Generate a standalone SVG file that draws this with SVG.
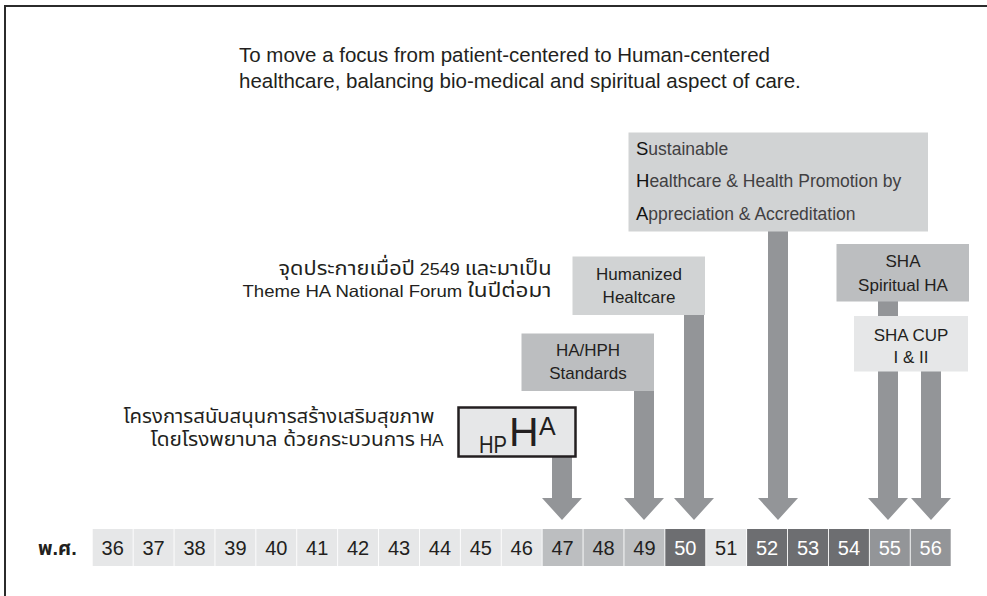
<svg xmlns="http://www.w3.org/2000/svg" width="987" height="596" viewBox="0 0 987 596">
<style>
  text { font-family: "Liberation Sans", Arial, "Noto Sans Thai", "Noto Sans", sans-serif; fill: #231f20; }
  .hdr { font-size: 20.5px; }
  .lbl { font-size: 17px; text-anchor: middle; }
  .sus { font-size: 17.5px; fill: #414042; }
  .sus tspan.cap { fill: #111; font-size: 18.5px; }
  .thai { font-size: 16.5px; text-anchor: end; }
  .thai tspan.th { font-size: 20px; }
  .yr { font-size: 20px; text-anchor: middle; }
  .yr.w { fill: #ffffff; }
  .cl { fill: #e6e7e8; }
  .cm { fill: #bcbec0; }
  .cd { fill: #6d6e71; }
  .cg { fill: #939598; }
  .arrow { fill: #939598; }
  .boxA { fill: #d1d3d4; }
  .boxB { fill: #bcbec0; }
  .boxC { fill: #e6e7e8; }
</style>
<rect x="0" y="0" width="987" height="596" fill="#ffffff"/>
<path d="M5 596 V6 H987" fill="none" stroke="#2b2b2b" stroke-width="2"/>

<g id="header">
  <text class="hdr" x="239" y="62">To move a focus from patient-centered to Human-centered</text>
  <text class="hdr" x="239" y="88">healthcare, balancing bio-medical and spiritual aspect of care.</text>
</g>

<g id="connectors">
  <path class="arrow" d="M552 456 H572 V498 H582 L562 520 L542 498 H552 Z"/>
  <path class="arrow" d="M634 390 H654 V498 H664 L644 520 L624 498 H634 Z"/>
  <path class="arrow" d="M684 314 H704 V498 H714 L694 520 L674 498 H684 Z"/>
  <path class="arrow" d="M768 231 H788 V498 H798 L778 520 L758 498 H768 Z"/>
  <path class="arrow" d="M878 301 H898 V498 H908 L888 520 L868 498 H878 Z"/>
  <path class="arrow" d="M921 371 H941 V498 H951 L931 520 L911 498 H921 Z"/>
</g>

<g id="node-sustainable">
  <rect class="boxA" x="628.5" y="132.5" width="299.5" height="99"/>
  <text class="sus" x="636" y="155"><tspan class="cap">S</tspan>ustainable</text>
  <text class="sus" x="636" y="187"><tspan class="cap">H</tspan>ealthcare &amp; Health Promotion by</text>
  <text class="sus" x="636" y="220"><tspan class="cap">A</tspan>ppreciation &amp; Accreditation</text>
</g>

<g id="node-humanized">
  <rect class="boxA" x="572.5" y="256.5" width="132.5" height="58.5"/>
  <text class="lbl" x="639" y="279.5">Humanized</text>
  <text class="lbl" x="639" y="303">Healtcare</text>
</g>

<g id="node-hahph">
  <rect class="boxB" x="521.5" y="333.5" width="132.5" height="57.5"/>
  <text class="lbl" x="588" y="355.5">HA/HPH</text>
  <text class="lbl" x="588" y="378.5">Standards</text>
</g>

<g id="node-sha">
  <rect class="boxB" x="836.5" y="244" width="132.5" height="57.5"/>
  <text class="lbl" x="903" y="267">SHA</text>
  <text class="lbl" x="903" y="291">Spiritual HA</text>
</g>

<g id="node-shacup">
  <rect class="boxC" x="854" y="316" width="114" height="55.5"/>
  <text class="lbl" x="911" y="341">SHA CUP</text>
  <text class="lbl" x="911" y="362.5">I &amp; II</text>
</g>

<g id="node-hpha">
  <rect x="458.5" y="407.5" width="117" height="49" fill="#e6e7e8" stroke="#231f20" stroke-width="2.5"/>
  <text x="479" y="453" font-size="24" textLength="28" lengthAdjust="spacingAndGlyphs">HP</text>
  <text x="509" y="446" font-size="41">H</text>
  <text x="539" y="435" font-size="25">A</text>
</g>

<g id="note-2549">
  <text class="thai" x="551.5" y="274.5" textLength="273" lengthAdjust="spacingAndGlyphs"><tspan class="th">จุดประกายเมื่อปี</tspan> 2549 <tspan class="th">และมาเป็น</tspan></text>
  <text class="thai" x="551.5" y="297" textLength="309" lengthAdjust="spacingAndGlyphs">Theme HA National Forum <tspan class="th">ในปีต่อมา</tspan></text>
</g>

<g id="note-project">
  <text class="thai" x="434.5" y="423" textLength="311" lengthAdjust="spacingAndGlyphs"><tspan class="th">โครงการสนับสนุนการสร้างเสริมสุขภาพ</tspan></text>
  <text class="thai" x="443.5" y="445.5" textLength="293" lengthAdjust="spacingAndGlyphs"><tspan class="th">โดยโรงพยาบาล ด้วยกระบวนการ</tspan> HA</text>
</g>

<g id="timeline">
  <text x="38" y="555" font-size="20" font-weight="bold">พ.ศ.</text>
  <rect class="cl" x="92.7" y="529" width="40" height="37"/>
  <rect class="cl" x="133.6" y="529" width="40" height="37"/>
  <rect class="cl" x="174.5" y="529" width="40" height="37"/>
  <rect class="cl" x="215.4" y="529" width="40" height="37"/>
  <rect class="cl" x="256.3" y="529" width="40" height="37"/>
  <rect class="cl" x="297.2" y="529" width="40" height="37"/>
  <rect class="cl" x="338.1" y="529" width="40" height="37"/>
  <rect class="cl" x="379.0" y="529" width="40" height="37"/>
  <rect class="cl" x="419.9" y="529" width="40" height="37"/>
  <rect class="cl" x="460.8" y="529" width="40" height="37"/>
  <rect class="cl" x="501.7" y="529" width="40" height="37"/>
  <rect class="cm" x="542.6" y="529" width="40" height="37"/>
  <rect class="cm" x="583.5" y="529" width="40" height="37"/>
  <rect class="cm" x="624.4" y="529" width="40" height="37"/>
  <rect class="cd" x="665.3" y="529" width="40" height="37"/>
  <rect class="cl" x="706.2" y="529" width="40" height="37"/>
  <rect class="cd" x="747.1" y="529" width="40" height="37"/>
  <rect class="cd" x="788.0" y="529" width="40" height="37"/>
  <rect class="cd" x="828.9" y="529" width="40" height="37"/>
  <rect class="cg" x="869.8" y="529" width="40" height="37"/>
  <rect class="cg" x="910.7" y="529" width="40" height="37"/>
  <text class="yr" x="112.7" y="555">36</text>
  <text class="yr" x="153.6" y="555">37</text>
  <text class="yr" x="194.5" y="555">38</text>
  <text class="yr" x="235.4" y="555">39</text>
  <text class="yr" x="276.3" y="555">40</text>
  <text class="yr" x="317.2" y="555">41</text>
  <text class="yr" x="358.1" y="555">42</text>
  <text class="yr" x="399.0" y="555">43</text>
  <text class="yr" x="439.9" y="555">44</text>
  <text class="yr" x="480.8" y="555">45</text>
  <text class="yr" x="521.7" y="555">46</text>
  <text class="yr" x="562.6" y="555">47</text>
  <text class="yr" x="603.5" y="555">48</text>
  <text class="yr" x="644.4" y="555">49</text>
  <text class="yr w" x="685.3" y="555">50</text>
  <text class="yr" x="726.2" y="555">51</text>
  <text class="yr w" x="767.1" y="555">52</text>
  <text class="yr w" x="808.0" y="555">53</text>
  <text class="yr w" x="848.9" y="555">54</text>
  <text class="yr w" x="889.8" y="555">55</text>
  <text class="yr w" x="930.7" y="555">56</text>
</g>
</svg>
